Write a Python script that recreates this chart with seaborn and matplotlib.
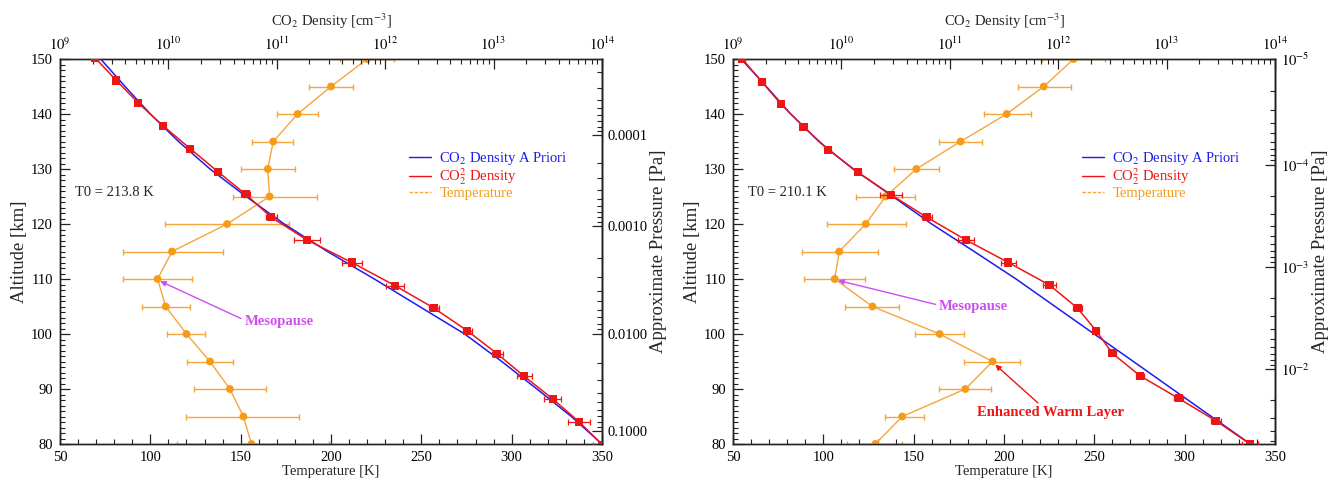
import numpy as np
import pandas as pd
import matplotlib
matplotlib.use("Agg")
import matplotlib.pyplot as plt
import seaborn as sns
from matplotlib.lines import Line2D
from matplotlib.ticker import (FixedLocator, FixedFormatter, MultipleLocator,
                               LogLocator, NullFormatter)

# ---------------------------------------------------------------- data
# temperature retrievals (altitude in km, temperature in K, error bars in K)
temp_alt = [150, 145, 140, 135, 130, 125, 120, 115, 110, 105, 100, 95, 90, 85, 80]

temp_a = [220, 200, 181.5, 168, 165, 166, 142.5, 112, 104, 108.5, 120, 133, 144, 151.5, 156]
temp_a_lo = [205, 188, 170, 156.5, 150, 146, 108, 85, 85, 95.5, 109, 120.5, 124, 120, 115]
temp_a_hi = [235, 212, 193, 179, 180, 192, 177, 140, 123, 122, 130, 145.5, 164, 182, 199]

temp_b = [238.6, 222, 201.5, 176, 151.5, 134.5, 123.5, 108.8, 106.3, 127.2, 164.4, 193.7, 178.6, 143.7, 128.8]
temp_b_lo = [221, 208, 189, 164, 139, 118, 102, 88, 89.5, 112, 150.5, 178, 164, 134, 113]
temp_b_hi = [256, 237, 215, 188, 164, 150.5, 146, 130, 123, 142, 178, 209, 193, 156, 143.5]

# retrieved CO2 density (cm^-3) with error in dex
dens_a_alt = [150.2, 146.1, 142.0, 137.8, 133.7, 129.5, 125.4, 121.2, 117.1,
              113.0, 108.8, 104.7, 100.6, 96.4, 92.3, 88.2, 84.0, 79.9]
dens_a = [2.11e9, 3.31e9, 5.27e9, 8.98e9, 1.59e10, 2.86e10, 5.17e10, 8.91e10, 1.90e11,
          4.92e11, 1.23e12, 2.82e12, 5.71e12, 1.08e13, 1.92e13, 3.51e13, 6.17e13, 1.0e14]
dens_a_err = [0.02, 0.02, 0.02, 0.02, 0.02, 0.03, 0.04, 0.05, 0.12,
              0.09, 0.08, 0.05, 0.04, 0.05, 0.07, 0.08, 0.10, 0.08]

dens_b_alt = [150.0, 145.9, 141.8, 137.7, 133.5, 129.4, 125.3, 121.2, 117.1,
              113.0, 108.9, 104.7, 100.6, 96.5, 92.4, 88.3, 84.2, 80.0]
dens_b = [1.22e9, 1.84e9, 2.77e9, 4.47e9, 7.59e9, 1.42e10, 2.88e10, 6.17e10, 1.41e11,
          3.47e11, 8.32e11, 1.51e12, 2.24e12, 3.16e12, 5.69e12, 1.29e13, 2.86e13, 5.89e13]
dens_b_err = [0.02, 0.03, 0.02, 0.02, 0.02, 0.03, 0.1, 0.05, 0.07,
              0.07, 0.06, 0.04, 0.03, 0.03, 0.04, 0.04, 0.05, 0.07]

# a priori CO2 density profiles (cm^-3)
apriori_alt = [150, 145, 140, 135, 130, 125, 120, 115, 110, 105, 100, 95, 90, 85, 80]
apriori_a = [2.37e9, 3.98e9, 6.81e9, 1.24e10, 2.42e10, 5.21e10, 1.17e11, 2.93e11,
             7.94e11, 2.07e12, 5.41e12, 1.19e13, 2.51e13, 5.21e13, 1.0e14]
apriori_b = [1.19e9, 2.03e9, 3.41e9, 6.19e9, 1.28e10, 2.99e10, 6.81e10, 1.68e11,
             4.09e11, 9.37e11, 2.15e12, 4.94e12, 1.13e13, 2.59e13, 5.93e13]

# approximate pressure scale: altitude (km) -> log10 pressure (Pa)
press_a_alt = [60, 82.3, 100, 119.7, 136.1, 170]
press_a_log = [0.26, -1, -2, -3, -4, -6.07]
press_a_ticks = [1e-4, 1e-3, 1e-2, 1e-1]
press_a_labels = ["0.0001", "0.0010", "0.0100", "0.1000"]

press_b_alt = [60, 93.55, 112.2, 130.7, 150, 170]
press_b_log = [-0.2, -2, -3, -4, -5, -6.04]
press_b_ticks = [1e-5, 1e-4, 1e-3, 1e-2]
press_b_labels = ["$10^{-5}$", "$10^{-4}$", "$10^{-3}$", "$10^{-2}$"]

dens_ticks = [1e9, 1e10, 1e11, 1e12, 1e13, 1e14]
dens_labels = ["$10^{9}$", "$10^{10}$", "$10^{11}$", "$10^{12}$", "$10^{13}$", "$10^{14}$"]

t0_a = "T0 = 213.8 K"
t0_b = "T0 = 210.1 K"

# ---------------------------------------------------------------- style
sns.set_theme(style="ticks")
plt.rcParams["font.family"] = ["Liberation Serif", "DejaVu Serif"]
plt.rcParams["mathtext.fontset"] = "stix"
plt.rcParams["axes.edgecolor"] = "#222222"
plt.rcParams["axes.linewidth"] = 1.0

BLUE = "#1c1cf0"
RED = "#ee1515"
ORANGE = "#f59b18"
ORANGE_LINE = "#f6a53c"
VIOLET = "#cc4ff0"
FS = 10.5      # horizontal text
FS_V = 13.5    # rotated axis titles

fig = plt.figure(figsize=(13.31, 4.86), dpi=100)
ax_a = fig.add_axes([0.0451, 0.0864, 0.4072, 0.7922])
ax_b = fig.add_axes([0.5507, 0.0864, 0.4072, 0.7922])


def pressure_funcs(alts, logs):
    alts = np.asarray(alts, float)
    logs = np.asarray(logs, float)

    def fwd(a):
        return 10.0 ** np.interp(a, alts, logs)

    def inv(p):
        lp = np.log10(np.clip(p, 1e-12, None))
        return np.interp(lp, logs[::-1], alts[::-1])
    return fwd, inv


def draw_panel(ax, t, t_lo, t_hi, d_alt, d, d_err, apri, p_alt, p_log,
               p_ticks, p_labels, t0):
    ax.set_xlim(50, 350)
    ax.set_ylim(80, 150)

    # temperature profile
    tdf = pd.DataFrame({"alt": temp_alt, "temp": t})
    xerr = [np.array(t) - np.array(t_lo), np.array(t_hi) - np.array(t)]
    ax.errorbar(t, temp_alt, xerr=xerr, fmt="none", ecolor=ORANGE_LINE,
                elinewidth=1.0, capsize=2.5, capthick=1.0, zorder=2)
    sns.lineplot(data=tdf, x="temp", y="alt", sort=False, orient="y", ax=ax,
                 color=ORANGE_LINE, lw=1.0, zorder=3)
    sns.scatterplot(data=tdf, x="temp", y="alt", ax=ax, color=ORANGE, s=32,
                    edgecolor="none", zorder=4, clip_on=True)

    # density on the top log axis
    axt = ax.twiny()
    axt.set_xscale("log")
    axt.set_xlim(1e9, 1e14)
    axt.set_ylim(80, 150)
    adf = pd.DataFrame({"alt": apriori_alt, "dens": apri})
    sns.lineplot(data=adf, x="dens", y="alt", sort=False, orient="y", ax=axt,
                 color=BLUE, lw=1.1, zorder=3)
    d = np.array(d)
    e = np.array(d_err)
    derr = [d * (1 - 10 ** (-e)), d * (10 ** e - 1)]
    axt.errorbar(d, d_alt, xerr=derr, fmt="none", ecolor=RED, elinewidth=0.9,
                 capsize=2.5, capthick=0.9, zorder=4)
    ddf = pd.DataFrame({"alt": d_alt, "dens": d})
    sns.lineplot(data=ddf, x="dens", y="alt", sort=False, orient="y", ax=axt,
                 color=RED, lw=1.1, zorder=5)
    sns.scatterplot(data=ddf, x="dens", y="alt", ax=axt, color=RED, marker="s",
                    s=34, edgecolor="none", zorder=6)
    axt.set_xlabel("")
    axt.set_ylabel("")

    # ticks: bottom temperature, left altitude
    ax.xaxis.set_major_locator(MultipleLocator(50))
    ax.xaxis.set_minor_locator(MultipleLocator(10))
    ax.yaxis.set_major_locator(MultipleLocator(10))
    ax.yaxis.set_minor_locator(MultipleLocator(1))
    ax.tick_params(axis="both", which="both", direction="in", top=False,
                   right=False, labelsize=FS, colors="#222222", labelcolor="black")
    ax.tick_params(which="major", length=7, width=0.9, pad=5)
    ax.tick_params(which="minor", length=3.5, width=0.8)
    ax.set_xlabel("Temperature [K]", fontsize=FS, labelpad=1)
    ax.set_ylabel("Altitude [km]", fontsize=FS_V, labelpad=2)

    # top density axis
    axt.xaxis.set_major_locator(FixedLocator(dens_ticks))
    axt.xaxis.set_major_formatter(FixedFormatter(dens_labels))
    axt.xaxis.set_minor_locator(LogLocator(base=10, subs=np.arange(2, 10)))
    axt.xaxis.set_minor_formatter(NullFormatter())
    axt.tick_params(axis="x", which="both", direction="in", labelsize=FS,
                    colors="#222222", labelcolor="black")
    axt.tick_params(axis="x", which="major", length=7, width=0.9, pad=4)
    axt.tick_params(axis="x", which="minor", length=3.5, width=0.8)
    axt.tick_params(axis="y", left=False, right=False, labelleft=False,
                    labelright=False)
    axt.set_xlabel("CO$_2$ Density [cm$^{-3}$]", fontsize=FS, labelpad=7)

    # right approximate pressure axis
    fwd, inv = pressure_funcs(p_alt, p_log)
    sec = ax.secondary_yaxis("right", functions=(fwd, inv))
    sec.yaxis.set_major_locator(FixedLocator(p_ticks))
    sec.yaxis.set_major_formatter(FixedFormatter(p_labels))
    minors = [m * 10.0 ** k for k in range(-6, 1) for m in range(2, 10)]
    sec.yaxis.set_minor_locator(FixedLocator(minors))
    sec.yaxis.set_minor_formatter(NullFormatter())
    sec.tick_params(which="both", direction="in", labelsize=FS,
                    colors="#222222", labelcolor="black")
    sec.tick_params(which="major", length=7, width=0.9, pad=4)
    sec.tick_params(which="minor", length=3.5, width=0.8)
    sec.set_ylabel("Approximate Pressure [Pa]", fontsize=FS_V, labelpad=2)

    ax.text(58.5, 125.8, t0, fontsize=FS, va="center", ha="left")

    handles = [Line2D([], [], color=BLUE, lw=1.0),
               Line2D([], [], color=RED, lw=1.0),
               Line2D([], [], color=ORANGE_LINE, lw=1.0, ls=(0, (2.5, 1.2)))]
    labels = ["CO$_2$ Density A Priori", "CO$^2_2$ Density", "Temperature"]
    axt.legend(handles, labels, loc="upper left",
               bbox_to_anchor=(243, 133.4), bbox_transform=ax.transData,
               frameon=False, fontsize=FS, handlelength=1.5,
               handletextpad=0.6, labelspacing=-0.05, borderpad=0,
               borderaxespad=0, labelcolor=[BLUE, RED, ORANGE])
    return axt


draw_panel(ax_a, temp_a, temp_a_lo, temp_a_hi, dens_a_alt, dens_a, dens_a_err,
           apriori_a, press_a_alt, press_a_log, press_a_ticks, press_a_labels, t0_a)
draw_panel(ax_b, temp_b, temp_b_lo, temp_b_hi, dens_b_alt, dens_b, dens_b_err,
           apriori_b, press_b_alt, press_b_log, press_b_ticks, press_b_labels, t0_b)

arrow_v = dict(arrowstyle="-|>", color=VIOLET, lw=1.0, shrinkA=0, shrinkB=1,
               mutation_scale=8, relpos=(0.0, 0.6))
ax_a.annotate("Mesopause", xy=(104.8, 109.7), xytext=(152, 102.3),
              color=VIOLET, fontsize=FS, fontweight="bold", va="center",
              ha="left", arrowprops=arrow_v, zorder=8)
ax_b.annotate("Mesopause", xy=(107.5, 109.8), xytext=(164, 105.0),
              color=VIOLET, fontsize=FS, fontweight="bold", va="center",
              ha="left", arrowprops=arrow_v, zorder=8)
ax_b.annotate("Enhanced Warm Layer", xy=(194.6, 94.6), xytext=(185, 85.7),
              color=RED, fontsize=FS, fontweight="bold", va="center",
              ha="left", zorder=8,
              arrowprops=dict(arrowstyle="-|>", color=RED, lw=1.0, shrinkA=0,
                              shrinkB=1, mutation_scale=8, relpos=(0.44, 1.0)))

fig.savefig("out.png", dpi=100)
